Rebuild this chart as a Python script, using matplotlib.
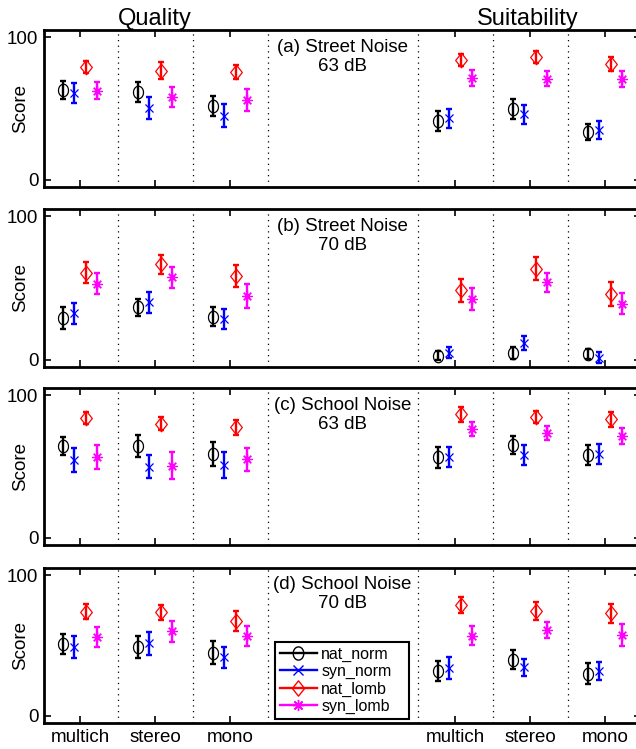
import numpy as np
import matplotlib
matplotlib.use("Agg")
import matplotlib.pyplot as plt
from matplotlib.lines import Line2D
from matplotlib.path import Path

plt.rcParams['font.family'] = ['Liberation Sans', 'DejaVu Sans']

series = ["nat_norm", "syn_norm", "nat_lomb", "syn_lomb"]
colors = ["#000000", "#0000ff", "#ff0000", "#ff00ff"]
groups = ["multich", "stereo", "mono", "multich", "stereo", "mono"]
group_pos = [1, 2, 3, 6, 7, 8]
offsets = [-0.225, -0.075, 0.075, 0.225]

panel_titles = ["(a) Street Noise\n63 dB", "(b) Street Noise\n70 dB",
                "(c) School Noise\n63 dB", "(d) School Noise\n70 dB"]

# rows = series (nat_norm, syn_norm, nat_lomb, syn_lomb), cols = groups
street63_mean = [[63, 61.5, 52, 41, 49.5, 33.5],
                 [61, 50.5, 45, 43, 46, 35],
                 [79, 76.5, 75.5, 84, 86, 81],
                 [62.5, 58, 56, 71.5, 71, 71]]
street63_err = [[6, 7, 7, 7, 7, 5.7],
                [7, 7.7, 8, 6.7, 6.8, 6.2],
                [4.3, 5.8, 4.7, 4.2, 4.3, 5],
                [6, 7, 7.8, 5.6, 5.1, 5.6]]

street70_mean = [[29, 36.5, 30, 3, 5, 4],
                 [32.5, 40, 28.5, 5, 11.5, 1.6],
                 [60.5, 66.5, 58.5, 48.5, 63.5, 46],
                 [53, 57.5, 44.5, 42.5, 54, 39]]
street70_err = [[7.5, 6.1, 6.7, 3.4, 4.2, 3.5],
                [7.3, 7.5, 7, 4, 4.9, 3.5],
                [7.3, 6.5, 7.8, 8.1, 7.8, 8.4],
                [7.1, 7.3, 8.4, 7.8, 6.6, 7.2]]

school63_mean = [[64.5, 64.5, 59, 56.5, 65, 58],
                 [54.5, 50, 51, 56.5, 58, 58.5],
                 [84, 80, 77.5, 86.5, 85, 83],
                 [56.5, 50.5, 55, 76, 73.5, 71.5]]
school63_err = [[6.2, 7.6, 8.5, 7.5, 6.3, 7],
                [8.2, 8.4, 9.1, 7, 6.8, 7],
                [4.2, 4.7, 5.3, 5, 4.2, 5.5],
                [8.3, 9.6, 8.2, 4.9, 4.6, 5.5]]

school70_mean = [[51, 49, 45, 32, 40, 30],
                 [49, 51.5, 41.5, 34, 34.5, 32],
                 [74, 73.5, 67.5, 79, 74.5, 73],
                 [56, 60, 56.5, 57, 61, 57.5]]
school70_err = [[7.1, 7.9, 8.2, 7.1, 6.7, 7.3],
                [7.7, 8, 7.7, 7.5, 6, 6.5],
                [5.3, 5.3, 6.9, 5.6, 6.5, 6.7],
                [7, 7.7, 7.1, 6.9, 5.9, 7.7]]

panel_means = [street63_mean, street70_mean, school63_mean, school70_mean]
panel_errs = [street63_err, street70_err, school63_err, school70_err]

# slightly tall circle / diamond, like the stretched MATLAB markers
t = np.linspace(0, 2 * np.pi, 40)
ellipse = Path(np.column_stack([0.8 * np.cos(t), np.sin(t)]), closed=True)
diamond = Path([(0, 1), (0.8, 0), (0, -1), (-0.8, 0), (0, 1)], closed=True)
markers = [ellipse, "x", diamond, (8, 2, 0)]
msizes = [9, 6, 10.5, 7.5]

fig = plt.figure(figsize=(6.36, 7.49), dpi=100)
W, H = 636, 749
left, right = 44, 641
boxes = [(30, 187), (209, 367), (388, 545), (568, 723)]

for k, (top, bot) in enumerate(boxes):
    ax = fig.add_axes([left / W, 1 - bot / H, (right - left) / W, (bot - top) / H])
    means = np.array(panel_means[k])
    errs = np.array(panel_errs[k])
    for i in range(4):
        x = np.array(group_pos) + offsets[i]
        ax.errorbar(x, means[i], yerr=errs[i], fmt="none", ecolor=colors[i],
                    elinewidth=1.7, capsize=2.5, capthick=1.7, zorder=3)
        ax.plot(x, means[i], linestyle="none", marker=markers[i], color=colors[i],
                markerfacecolor="none", markersize=msizes[i],
                markeredgewidth=0.9, zorder=4)
    for xv in [1.5, 2.5, 3.5, 5.5, 6.5, 7.5]:
        ax.axvline(xv, color="black", linestyle=(0, (1, 3.5)), linewidth=0.9, zorder=1)
    ax.set_xlim(0.52, 8.48)
    ax.set_ylim(-5, 105)
    ax.set_yticks([0, 100])
    ax.set_xticks(group_pos)
    if k == 3:
        ax.set_xticklabels(groups)
    else:
        ax.set_xticklabels([])
    ax.tick_params(direction="in", length=5, width=1.2, top=True, right=True,
                   labelsize=13.5, pad=4)
    for s in ax.spines.values():
        s.set_linewidth(2)
    ax.set_ylabel("Score", fontsize=13.5)
    ax.yaxis.set_label_coords(-0.04, 0.5)
    ax.yaxis.label.set_verticalalignment("center")
    ax.text(4.5, 99, panel_titles[k], ha="center", va="top", fontsize=13.5,
            linespacing=1.15, zorder=5)
    if k == 3:
        handles = [Line2D([0], [0], color=colors[i], marker=markers[i],
                          markerfacecolor="none", markersize=msizes[i] + 0.5,
                          linewidth=1.7, markeredgewidth=1.0) for i in range(4)]
        leg = ax.legend(handles, series, loc="lower left",
                        bbox_to_anchor=(0.387, 0.026, 0.224, 0.53), mode="expand",
                        fontsize=11.5, frameon=True, fancybox=False,
                        handlelength=2.3, handletextpad=0.3, borderaxespad=0,
                        labelspacing=0.15, borderpad=0.3)
        leg.get_frame().set_edgecolor("black")
        leg.get_frame().set_linewidth(1.5)
        leg.get_frame().set_alpha(1)

fig.text(155 / W, 1 - 25 / H, "Quality", ha="center", va="baseline", fontsize=17)
fig.text(528 / W, 1 - 25 / H, "Suitability", ha="center", va="baseline", fontsize=17)

fig.savefig("out.png", dpi=100)
